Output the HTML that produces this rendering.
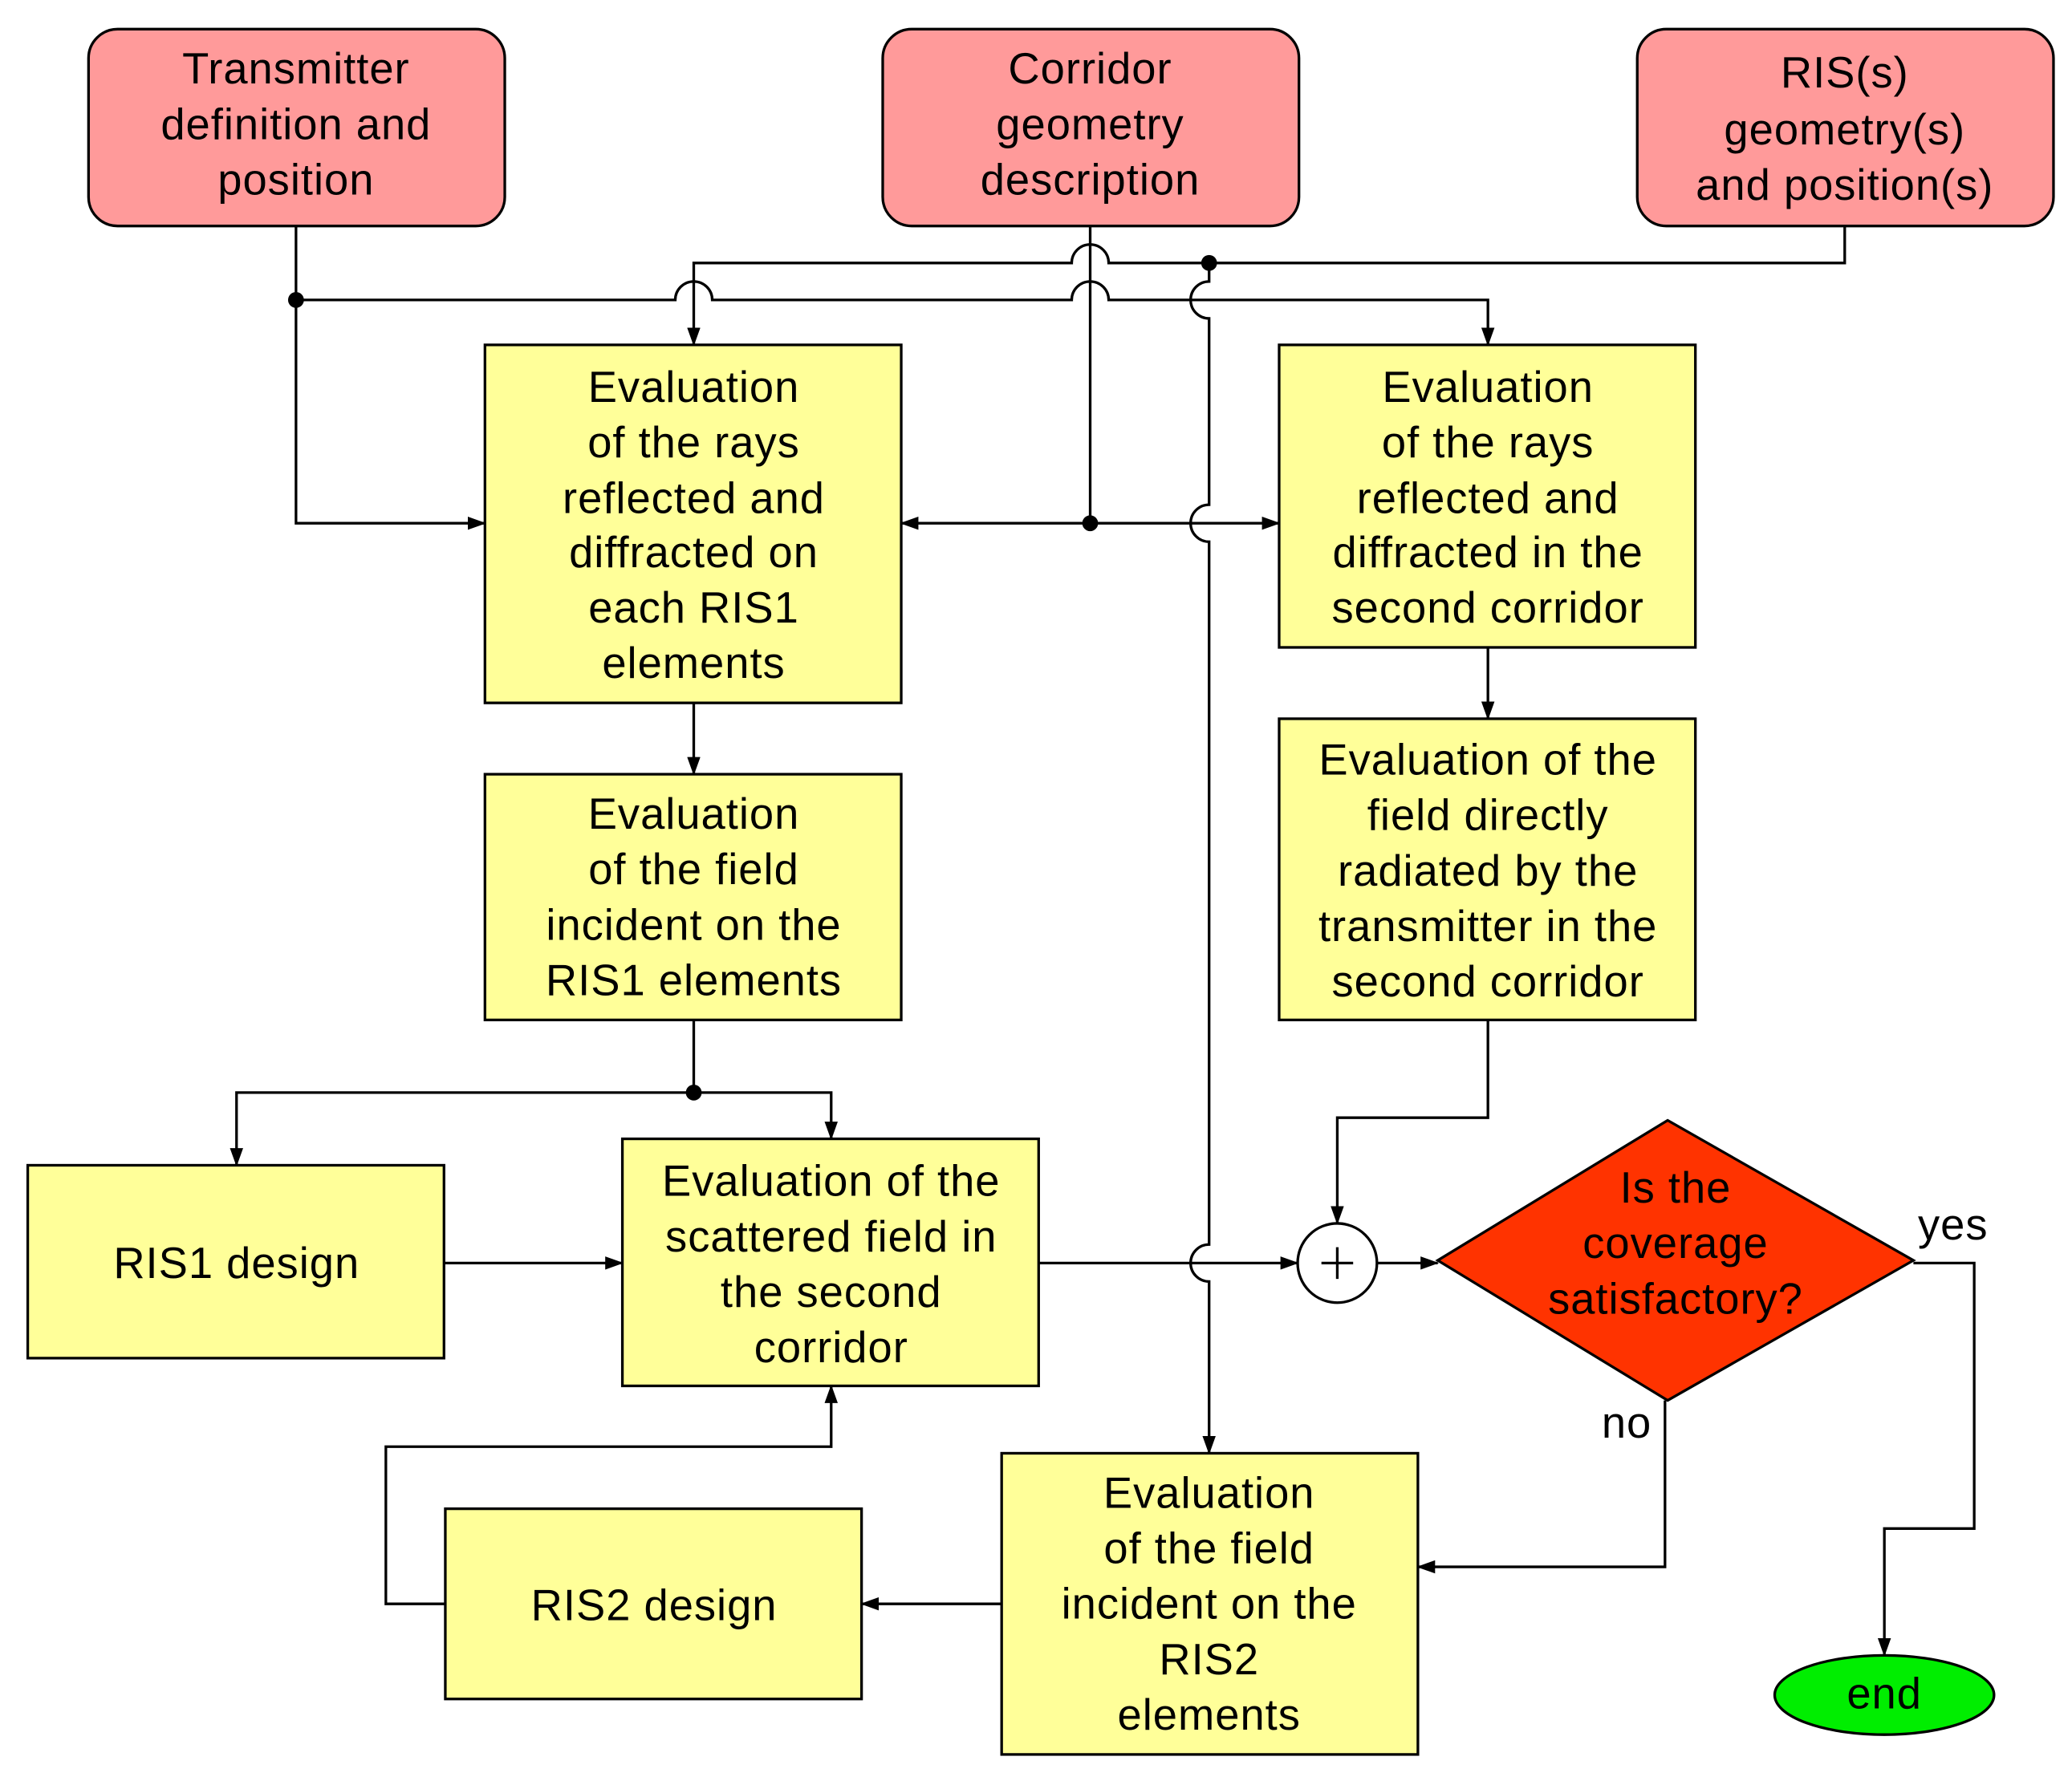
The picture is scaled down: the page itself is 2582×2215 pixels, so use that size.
<!DOCTYPE html>
<html><head><meta charset="utf-8"><style>
html,body{margin:0;padding:0;background:#fff;}
svg{display:block;}
text{font-family:"Liberation Sans",Arial,sans-serif;font-size:33px;letter-spacing:0.6px;fill:#000;text-anchor:middle;dominant-baseline:central;}
</style></head><body>
<svg width="2582" height="2215" viewBox="0 0 1568 1345" xmlns="http://www.w3.org/2000/svg">
<defs>
<marker id="a" markerWidth="14" markerHeight="10" refX="13" refY="5" orient="auto" markerUnits="userSpaceOnUse">
<path d="M0,0 L14,5 L0,10 z" fill="#000"/></marker>
</defs>
<g stroke="#000" stroke-width="2">
<rect x="67" y="22" width="315" height="149" rx="22" fill="#FF9A9A"/>
<rect x="668" y="22" width="315" height="149" rx="22" fill="#FF9A9A"/>
<rect x="1239" y="22" width="315" height="149" rx="22" fill="#FF9A9A"/>
<rect x="367" y="261" width="315" height="271" fill="#FFFF99"/>
<rect x="367" y="586" width="315" height="186" fill="#FFFF99"/>
<rect x="968" y="261" width="315" height="229" fill="#FFFF99"/>
<rect x="968" y="544" width="315" height="228" fill="#FFFF99"/>
<rect x="21" y="882" width="315" height="146" fill="#FFFF99"/>
<rect x="471" y="862" width="315" height="187" fill="#FFFF99"/>
<rect x="337" y="1142" width="315" height="144" fill="#FFFF99"/>
<rect x="758" y="1100" width="315" height="228" fill="#FFFF99"/>
<polygon points="1088,954 1262,848 1448,954 1262,1060" fill="#FF3300"/>
<circle cx="1012" cy="956" r="30" fill="#fff"/>
<ellipse cx="1426" cy="1283" rx="83" ry="30" fill="#00EE00"/>
</g>
<g stroke="#000" stroke-width="2" fill="none">
<path d="M224,171 V396 H367" marker-end="url(#a)"/>
<path d="M224,227 H511 A14,14 0 0 1 539,227 H811 A14,14 0 0 1 839,227 H1126 V261" marker-end="url(#a)"/>
<path d="M825,171 V396"/>
<path d="M825,396 H682" marker-end="url(#a)"/>
<path d="M825,396 H968" marker-end="url(#a)"/>
<path d="M1396,171 V199 H839 A14,14 0 0 0 811,199 H525 V261" marker-end="url(#a)"/>
<path d="M915,199 V213 A14,14 0 0 0 915,241 V382 A14,14 0 0 0 915,410 V942 A14,14 0 0 0 915,970 V1100" marker-end="url(#a)"/>
<path d="M525,532 V586" marker-end="url(#a)"/>
<path d="M525,772 V827"/>
<path d="M525,827 H179 V882" marker-end="url(#a)"/>
<path d="M525,827 H629 V862" marker-end="url(#a)"/>
<path d="M336,956 H471" marker-end="url(#a)"/>
<path d="M786,956 H982" marker-end="url(#a)"/>
<path d="M1126,490 V544" marker-end="url(#a)"/>
<path d="M1126,772 V846 H1012 V926" marker-end="url(#a)"/>
<path d="M1042,956 H1088" marker-end="url(#a)"/>
<path d="M1448,956 H1494 V1157 H1426 V1253" marker-end="url(#a)"/>
<path d="M1260,1060 V1186 H1073" marker-end="url(#a)"/>
<path d="M758,1214 H652" marker-end="url(#a)"/>
<path d="M337,1214 H292 V1095 H629 V1049" marker-end="url(#a)"/>
<path d="M1000,956 H1024 M1012,944 V968"/>
</g>
<g fill="#000">
<circle cx="224" cy="227" r="6"/>
<circle cx="915" cy="199" r="6"/>
<circle cx="825" cy="396" r="6"/>
<circle cx="525" cy="827" r="6"/>
</g>
<text x="224" y="52">Transmitter</text><text x="224" y="94">definition and</text><text x="224" y="136">position</text>
<text x="825" y="52">Corridor</text><text x="825" y="94">geometry</text><text x="825" y="136">description</text>
<text x="1396" y="55">RIS(s)</text><text x="1396" y="98">geometry(s)</text><text x="1396" y="140">and position(s)</text>
<text x="525" y="293">Evaluation</text><text x="525" y="335">of the rays</text><text x="525" y="377">reflected and</text><text x="525" y="418">diffracted on</text><text x="525" y="460">each RIS1</text><text x="525" y="502">elements</text>
<text x="525" y="616">Evaluation</text><text x="525" y="658">of the field</text><text x="525" y="700">incident on the</text><text x="525" y="742">RIS1 elements</text>
<text x="1126" y="293">Evaluation</text><text x="1126" y="335">of the rays</text><text x="1126" y="377">reflected and</text><text x="1126" y="418">diffracted in the</text><text x="1126" y="460">second corridor</text>
<text x="1126" y="575">Evaluation of the</text><text x="1126" y="617">field directly</text><text x="1126" y="659">radiated by the</text><text x="1126" y="701">transmitter in the</text><text x="1126" y="743">second corridor</text>
<text x="179" y="956">RIS1 design</text>
<text x="629" y="894">Evaluation of the</text><text x="629" y="936">scattered field in</text><text x="629" y="978">the second</text><text x="629" y="1020">corridor</text>
<text x="495" y="1215">RIS2 design</text>
<text x="915" y="1130">Evaluation</text><text x="915" y="1172">of the field</text><text x="915" y="1214">incident on the</text><text x="915" y="1256">RIS2</text><text x="915" y="1298">elements</text>
<text x="1268" y="899">Is the</text><text x="1268" y="941">coverage</text><text x="1268" y="983">satisfactory?</text>
<text x="1478" y="927">yes</text><text x="1231" y="1077">no</text>
<text x="1426" y="1282">end</text>
</svg>
</body></html>
